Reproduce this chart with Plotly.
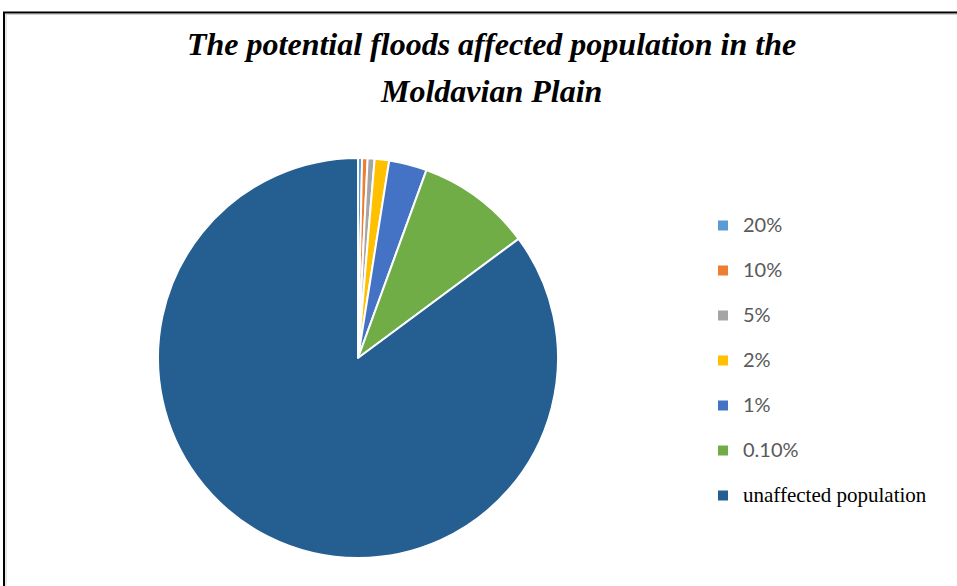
import plotly.graph_objects as go

labels = ["20%", "10%", "5%", "2%", "1%", "0.10%", "unaffected population"]
values = [0.33, 0.44, 0.56, 1.17, 3.06, 9.28, 85.16]
colors = ["#5B9BD5", "#ED7D31", "#A5A5A5", "#FFC000", "#4472C4", "#70AD47", "#255E91"]

title_lines = ["The potential floods affected population in the", "Moldavian Plain"]

W, H = 957, 586
SERIF = "Liberation Serif"

legend_labels = []
for lab in labels:
    if lab == "unaffected population":
        legend_labels.append(
            "<span style='font-family:Liberation Serif;font-size:21px;fill:#000000'>" + lab + "</span><br> ")
    else:
        legend_labels.append(
            "<span style='font-family:Lato;font-size:20px;fill:#595959'>" + lab + "</span><br> ")

fig = go.Figure(go.Pie(
    labels=legend_labels,
    values=values,
    sort=False,
    direction="clockwise",
    rotation=0,
    marker=dict(colors=colors, line=dict(color="white", width=2)),
    textinfo="none",
    hoverinfo="label+percent",
    domain=dict(x=[158 / W, 558 / W], y=[(H - 558) / H, (H - 158) / H]),
))

fig.update_layout(
    width=W, height=H,
    margin=dict(l=0, r=0, t=0, b=0),
    paper_bgcolor="white",
    showlegend=True,
    legend=dict(
        x=703 / W, xanchor="left",
        y=1 - 208.5 / H, yanchor="top",
        font=dict(size=16.15, color="#595959", family="Lato"),
        valign="top",
        itemclick=False,
    ),
    annotations=[
        dict(text="<b><i>" + title_lines[0] + "</i></b>", x=491 / W, y=1 - 44 / H,
             xref="paper", yref="paper", xanchor="center", yanchor="middle", showarrow=False,
             font=dict(family=SERIF, size=32, color="#000000")),
        dict(text="<b><i>" + title_lines[1] + "</i></b>", x=491 / W, y=1 - 91 / H,
             xref="paper", yref="paper", xanchor="center", yanchor="middle", showarrow=False,
             font=dict(family=SERIF, size=32, color="#000000")),
    ],
    shapes=[
        dict(type="line", xref="paper", yref="paper", x0=4 / W, x1=4 / W, y0=0, y1=1 - 12 / H,
             line=dict(color="#000000", width=2)),
        dict(type="line", xref="paper", yref="paper", x0=3 / W, x1=1, y0=1 - 12.5 / H, y1=1 - 12.5 / H,
             line=dict(color="#000000", width=2)),
        dict(type="line", xref="paper", yref="paper", x0=6 / W, x1=6 / W, y0=0, y1=1 - 14 / H,
             line=dict(color="#D0D0D0", width=1)),
        dict(type="line", xref="paper", yref="paper", x0=6 / W, x1=1, y0=1 - 14.5 / H, y1=1 - 14.5 / H,
             line=dict(color="#D0D0D0", width=1)),
    ],
)

fig.write_html("out.html", config={"displayModeBar": False},
               post_script="document.body.style.margin='0';")
